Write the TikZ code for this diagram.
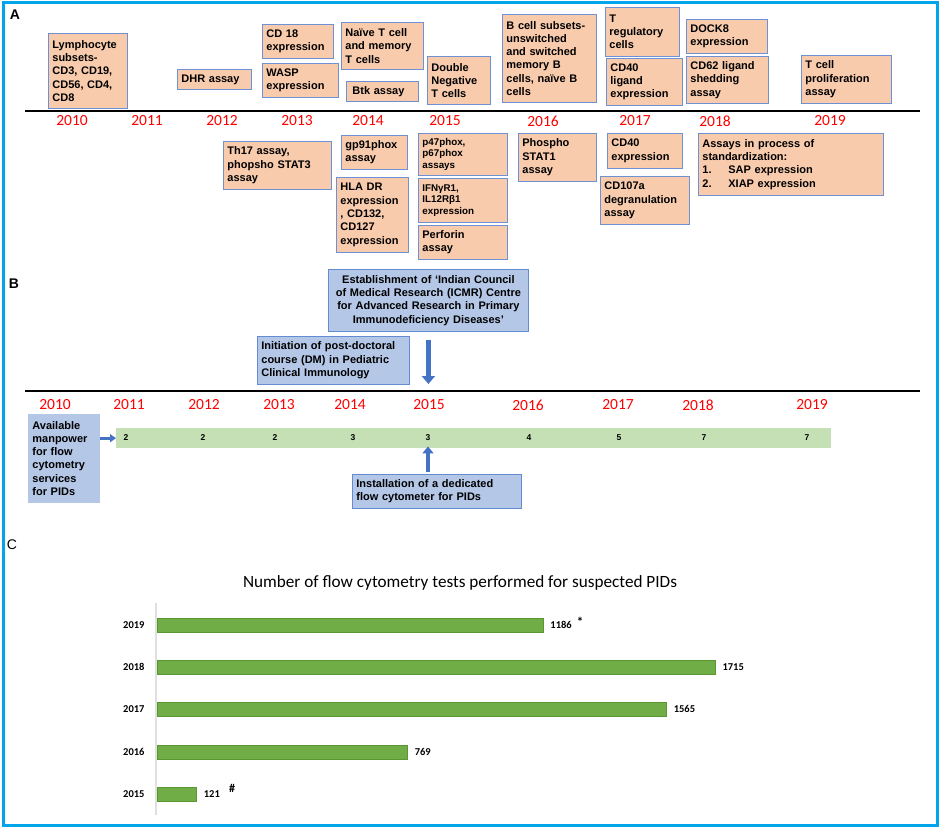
\documentclass[tikz,border=0pt]{standalone}
\usepackage{fontspec}
\setmainfont{Liberation Sans}
\newfontfamily\calibri{Carlito}
\usepackage{tikz}
\usetikzlibrary{arrows.meta,positioning}
\definecolor{peach}{RGB}{248,203,173}
\definecolor{boxedge}{RGB}{110,145,212}
\definecolor{eventfill}{RGB}{180,199,231}
\definecolor{eventedge}{RGB}{100,140,210}
\definecolor{staffgreen}{RGB}{197,224,180}
\definecolor{bargreen}{RGB}{112,173,71}
\definecolor{baredge}{RGB}{90,150,50}
\definecolor{arrowblue}{RGB}{68,114,196}
\definecolor{framecol}{RGB}{0,165,235}
\newcommand{\boxfont}{\fontsize{11}{13.3}\selectfont\bfseries}
\newcommand{\smallboxfont}{\fontsize{9.8}{11.4}\selectfont\bfseries}
\tikzset{
  assay/.style={draw=boxedge,line width=0.8pt,fill=peach,anchor=north west,
    align=left,inner xsep=4pt,inner ysep=1pt,font=\boxfont},
  event/.style={assay,draw=eventedge,fill=eventfill},
  year/.style={text=red,font=\calibri\fontsize{15.5}{16}\selectfont},
  panel/.style={font=\fontsize{14}{14}\selectfont\bfseries},
  timeline/.style={line width=2pt},
  staffno/.style={font=\fontsize{8.5}{9}\selectfont\bfseries},
  blockarrow/.style={draw=arrowblue,-{Triangle[width=13pt,length=8pt]}},
  cyear/.style={font=\calibri\fontsize{10.5}{11}\selectfont\bfseries},
  bar/.style={fill=bargreen,draw=baredge,line width=0.6pt}
}
\begin{document}
\begin{tikzpicture}[x=1pt,y=-1pt]
\useasboundingbox (0,0) rectangle (941,829);
\draw[framecol,line width=3pt] (3,3) rectangle (937,825);

% A
\node[panel] (la) at (15,15) {A};
\coordinate (al) at (25,111);
\coordinate (ar) at (920,111);
\draw[timeline] (al) -- (ar);
\foreach \x/\yr in {72/2010,147/2011,222/2012,297/2013,368/2014,445/2015,543/2016,635/2017,715/2018,830/2019}
  \node[year] (ya\yr) at (\x,121) {\yr};

\node[assay,text width=71,minimum height=75] (lymph) at (48,33) {Lymphocyte\\subsets-\\CD3, CD19,\\CD56, CD4,\\CD8};
\node[assay,text width=66,minimum height=20] (dhr) at (177,69) {DHR assay};
\node[assay,text width=63,minimum height=34] (cd18) at (262,24) {CD 18\\expression};
\node[assay,text width=68,minimum height=34] (wasp) at (262,63) {WASP\\expression};
\node[assay,text width=74,minimum height=47] (naive) at (341,22) {Naïve T cell\\and memory\\T cells};
\node[assay,text width=60,minimum height=20,inner xsep=6pt] (btk) at (346,81) {Btk assay};
\node[assay,text width=55,minimum height=48] (dneg) at (427,56) {Double\\Negative\\T cells};
\node[assay,text width=86,minimum height=88] (bcell) at (502,14) {B cell subsets-\\unswitched\\and switched\\memory B\\cells, naïve B\\cells};
\node[assay,text width=66,minimum height=49] (treg) at (605,7) {T\\regulatory\\cells};
\node[assay,text width=68,minimum height=47] (cd40l) at (606,58) {CD40\\ligand\\expression};
\node[assay,text width=73,minimum height=34] (dock8) at (686,19) {DOCK8\\expression};
\node[assay,text width=74,minimum height=47] (cd62) at (686,56) {CD62 ligand\\shedding\\assay};
\node[assay,text width=82,minimum height=48] (tprol) at (801,55) {T cell\\proliferation\\assay};

\node[assay,text width=100,minimum height=48] (th17) at (223,141) {Th17 assay,\\phopsho STAT3\\assay};
\node[assay,text width=58,minimum height=34] (gp91) at (341,135) {gp91phox\\assay};
\node[assay,text width=64,minimum height=75] (hla) at (336,177) {HLA DR\\expression\\, CD132,\\CD127\\expression};
\node[assay,font=\smallboxfont,text width=81,minimum height=42] (p47) at (418,133) {p47phox,\\p67phox\\assays};
\node[assay,font=\smallboxfont,text width=81,minimum height=44] (ifn) at (418,178) {IFNγR1,\\IL12Rβ1\\expression};
\node[assay,text width=81,minimum height=34] (perf) at (418,225) {Perforin\\assay};
\node[assay,text width=70,minimum height=48] (pstat1) at (518,133) {Phospho\\STAT1\\assay};
\node[assay,text width=67,minimum height=35] (cd40) at (607,133) {CD40\\expression};
\node[assay,text width=81,minimum height=48] (cd107) at (600,176) {CD107a\\degranulation\\assay};
\node[assay,text width=177,minimum height=62] (stdz) at (698,133) {Assays in process of\\standardization:\\\makebox[26pt][l]{1.}SAP expression\\\makebox[26pt][l]{2.}XIAP expression};

% B
\node[panel] (lb) at (14,284) {B};
\coordinate (bl) at (25,391);
\coordinate (br) at (920,391);
\draw[timeline] (bl) -- (br);
\foreach \x/\yr in {55/2010,129/2011,204/2012,279/2013,350/2014,429/2015,528/2016,618/2017,698/2018,812/2019}
  \node[year] (yb\yr) at (\x,405) {\yr};

\node[event,align=center,text width=192,minimum height=62] (icmr) at (328,269) {Establishment of ‘Indian Council\\of Medical Research (ICMR) Centre\\for Advanced Research in Primary\\Immunodeficiency Diseases’};
\node[event,text width=144,minimum height=48] (dm) at (257,336) {Initiation of post-doctoral\\course (DM) in Pediatric\\Clinical Immunology};
\node[event,draw=eventfill,text width=63,minimum height=88] (manp) at (28,414) {Available\\manpower\\for flow\\cytometry\\services\\for PIDs};
\node[event,text width=161,minimum height=34] (inst) at (352,474) {Installation of a dedicated\\flow cytometer for PIDs};

\node[fill=staffgreen,anchor=north west,minimum width=715,minimum height=20,inner sep=0pt] (staffbar) at (116,428) {};
\foreach \x/\n [count=\i] in {126/2,203/2,275/2,353/3,428/3,529/4,619/5,704/7,807/7}
  \node[staffno] (n\i) at (\x,438) {\n};

\draw[blockarrow,line width=5pt,shorten <=8pt,shorten >=7pt] (icmr.south) -- (icmr.south |- bl);
\draw[blockarrow,line width=3pt,-{Triangle[width=8pt,length=6pt]}] (manp.east |- staffbar.west) -- (staffbar.west);
\draw[blockarrow,line width=4pt,-{Triangle[width=11pt,length=7pt]},shorten <=2pt,shorten >=-2pt] (inst.north -| n5) -- (staffbar.south -| n5);

% C
\node[font=\fontsize{14}{14}\selectfont] (lc) at (12,545) {C};
\node[font=\calibri\fontsize{17.2}{19}\selectfont] (ctitle) at (460,583) {Number of flow cytometry tests performed for suspected PIDs};
\draw[black!12,line width=1.2pt] (156,603) -- (156,815);
\foreach \yr/\val/\yy in {2019/1186/625,2018/1715/667,2017/1565/709,2016/769/752,2015/121/794}{
  \pgfmathsetmacro{\xend}{157+0.3254*\val}
  \draw[bar] (157,\yy-7) rectangle (\xend,\yy+7);
  \node[cyear,anchor=east] (cy\yr) at (148,\yy) {\yr};
  \node[cyear,anchor=west] (cv\yr) at (\xend+4,\yy) {\val};
}
\node[font=\calibri\fontsize{13}{13}\selectfont\bfseries] (star) at (580,622) {*};
\node[font=\calibri\fontsize{12}{12}\selectfont\bfseries] (hash) at (232,788) {\#};
\end{tikzpicture}
\end{document}
